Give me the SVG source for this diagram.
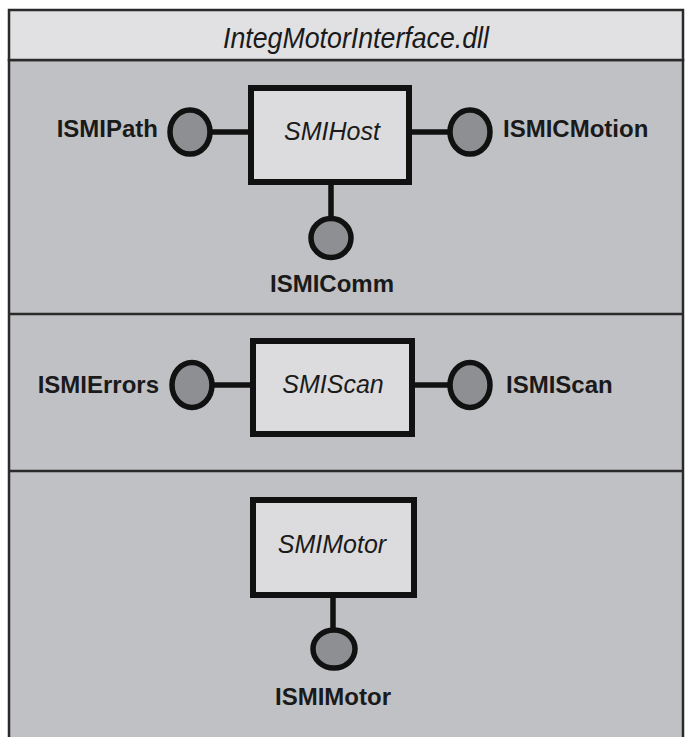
<svg xmlns="http://www.w3.org/2000/svg" width="691" height="737" viewBox="0 0 691 737">
<style>
.band{fill:#c0c1c4;stroke:#2a2a2a;stroke-width:2.5}
.title{fill:#e1e1e3;stroke:#2a2a2a;stroke-width:2.5}
.box{fill:#dcdcde;stroke:#111;stroke-width:6}
.port{fill:#8e8f93;stroke:#111;stroke-width:5.5}
.conn{stroke:#111;stroke-width:5.5;fill:none}
.nl{font-family:"Liberation Sans",Arial,sans-serif;font-style:italic;font-size:25px;fill:#1a1a1a;text-anchor:middle}
.pl{font-family:"Liberation Sans",Arial,sans-serif;font-weight:bold;font-size:24px;fill:#1a1a1a}
.tt{font-family:"Liberation Sans",Arial,sans-serif;font-style:italic;font-size:29px;fill:#1a1a1a;text-anchor:middle}
</style>
<rect width="691" height="737" fill="#ffffff"/>
<g id="frame">
<rect class="band" x="9" y="60" width="674" height="690"/>
<rect class="title" x="9" y="10" width="674" height="50"/>
<line x1="9" y1="314" x2="683" y2="314" stroke="#2a2a2a" stroke-width="2.5"/>
<line x1="9" y1="471" x2="683" y2="471" stroke="#2a2a2a" stroke-width="2.5"/>
<text class="tt" x="356" y="48" textLength="266" lengthAdjust="spacingAndGlyphs">IntegMotorInterface.dll</text>
</g>
<g id="connectors">
<line class="conn" x1="212" y1="132" x2="251" y2="132"/>
<line class="conn" x1="409" y1="132" x2="449" y2="132"/>
<line class="conn" x1="331" y1="182" x2="331" y2="219"/>
<line class="conn" x1="213" y1="385" x2="253" y2="385"/>
<line class="conn" x1="412" y1="385" x2="450" y2="385"/>
<line class="conn" x1="333" y1="595" x2="333" y2="630"/>
</g>
<g id="SMIHost">
<rect class="box" x="251" y="88" width="158" height="94"/>
<text class="nl" x="332" y="140">SMIHost</text>
</g>
<g id="ISMIPath">
<ellipse class="port" cx="190" cy="132" rx="20" ry="22"/>
<text class="pl" x="158" y="137" text-anchor="end">ISMIPath</text>
</g>
<g id="ISMICMotion">
<ellipse class="port" cx="470" cy="132" rx="20" ry="22"/>
<text class="pl" x="503" y="137">ISMICMotion</text>
</g>
<g id="ISMIComm">
<ellipse class="port" cx="331" cy="238" rx="20" ry="19.5"/>
<text class="pl" x="332" y="292" text-anchor="middle">ISMIComm</text>
</g>
<g id="SMIScan">
<rect class="box" x="253" y="341" width="159" height="93"/>
<text class="nl" x="333" y="393">SMIScan</text>
</g>
<g id="ISMIErrors">
<ellipse class="port" cx="192" cy="385" rx="20" ry="22.5"/>
<text class="pl" x="159" y="393" text-anchor="end">ISMIErrors</text>
</g>
<g id="ISMIScan">
<ellipse class="port" cx="470" cy="385" rx="20" ry="22.5"/>
<text class="pl" x="506" y="393">ISMIScan</text>
</g>
<g id="SMIMotor">
<rect class="box" x="253" y="500" width="161" height="95"/>
<text class="nl" x="332" y="553">SMIMotor</text>
</g>
<g id="ISMIMotor">
<ellipse class="port" cx="334" cy="649" rx="21" ry="19"/>
<text class="pl" x="333" y="705" text-anchor="middle">ISMIMotor</text>
</g>
</svg>
